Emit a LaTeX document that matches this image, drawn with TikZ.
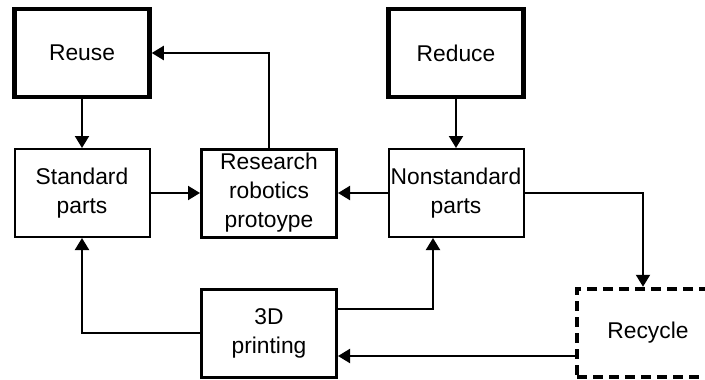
\documentclass[tikz,border=0pt]{standalone}
\usepackage{fontspec}
\setmainfont{Liberation Sans}
\usetikzlibrary{arrows.meta}
\begin{document}
\begin{tikzpicture}[x=1pt,y=-1pt,
  box/.style={draw, line width=2pt, minimum width=135pt, minimum height=88pt,
    align=center, inner sep=0pt, font=\fontsize{22.8}{29}\selectfont},
  heavy/.style={box, line width=4.5pt},
  mid/.style={box, line width=3pt},
  dashbox/.style={box, line width=4.5pt, dash pattern=on 10pt off 6pt, minimum width=142pt},
  arr/.style={-{Triangle[length=12pt,width=14pt]}, line width=2pt}]
\useasboundingbox (0,0) rectangle (705,380);
\clip (0,0) rectangle (705,380);
\node[heavy] (reuse) at (82,53) {Reuse};
\node[heavy] (reduce) at (456,53) {Reduce};
\node[box] (std) at (82,193) {Standard\\parts};
\node[mid] (res) at (269,193) {Research\\robotics\\protoype};
\node[box] (nonstd) at (456,193) {Nonstandard\\parts};
\node[mid] (print) at (269,333) {3D\\printing};
\node[dashbox] (recycle) at (648,333) {Recycle};
\draw[arr] (reuse) -- (std);
\draw[arr] (res.north) |- (reuse.east);
\draw[arr] (std) -- (res);
\draw[arr] (nonstd) -- (res);
\draw[arr] (reduce) -- (nonstd);
\draw[arr] (nonstd.east) -| ([xshift=-5pt]recycle.north);
\draw[arr] (print.west) -| (std.south);
\draw[arr] ([yshift=24pt]print.east) -| ([xshift=-23pt]nonstd.south);
\draw[arr] ([yshift=-23pt]recycle.west) -- ([yshift=-23pt]print.east);
\end{tikzpicture}
\end{document}
